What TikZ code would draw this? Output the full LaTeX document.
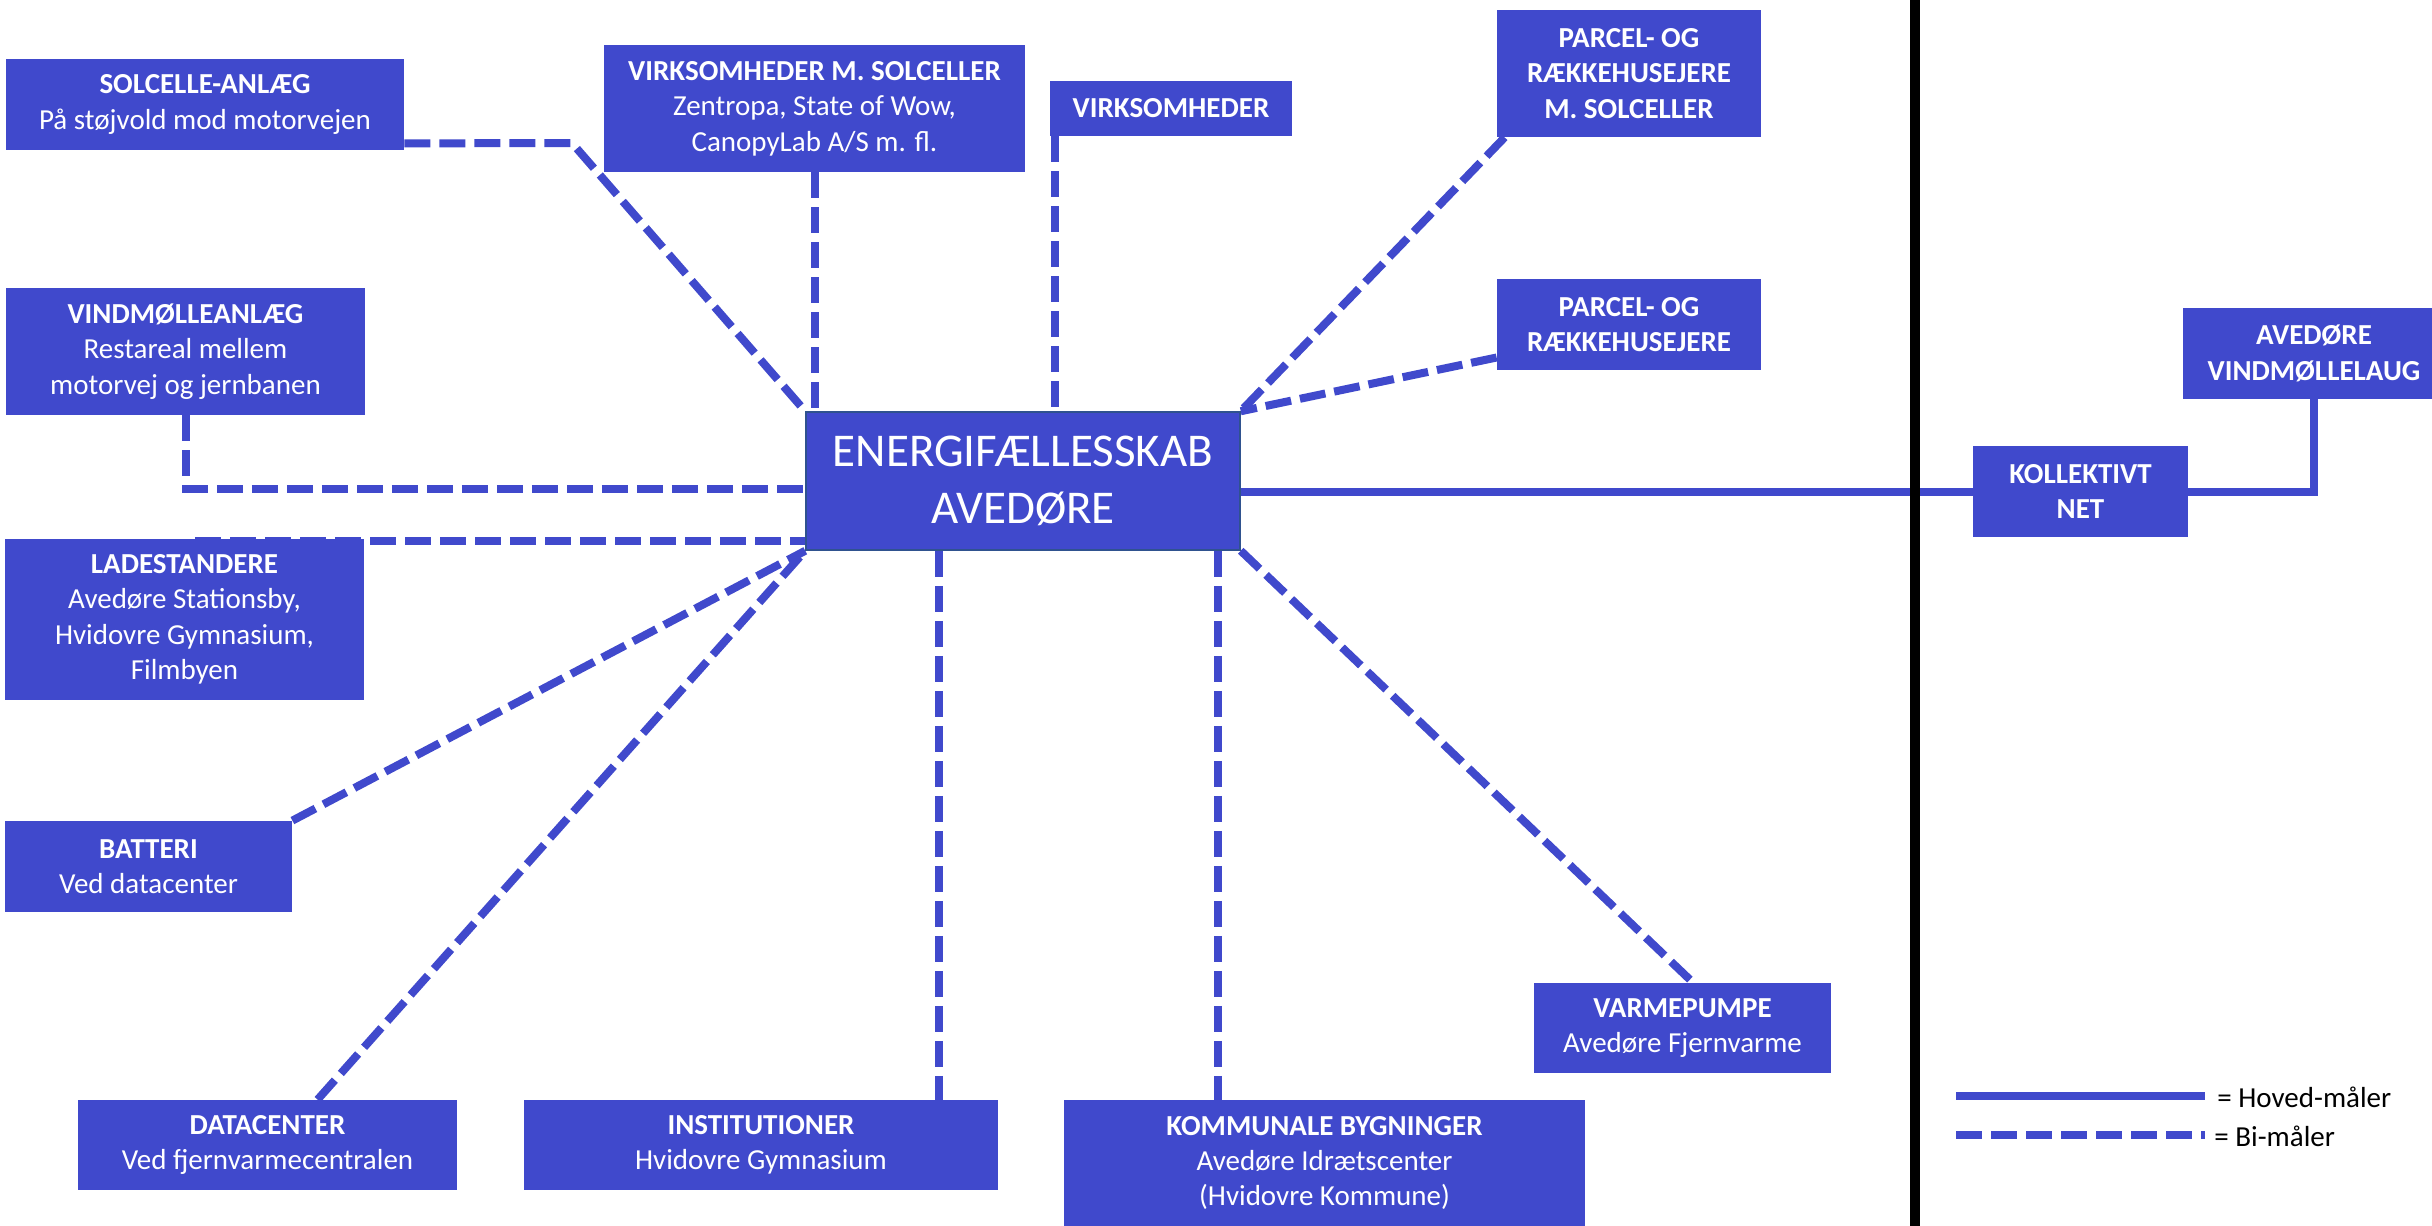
\documentclass[tikz,border=0pt]{standalone}
\usepackage{fontspec}
\setmainfont{Carlito}
\usetikzlibrary{calc,backgrounds}
\definecolor{boxblue}{HTML}{4049CC}
\definecolor{edgeblue}{HTML}{2F528F}
\begin{document}
\begin{tikzpicture}[x=0.5pt,y=-0.5pt,
  box/.style={fill=boxblue, text=white, align=center, inner sep=0pt,
    font=\fontsize{14.5}{17.7}\selectfont},
  bi/.style={draw=boxblue, line width=4pt, dash pattern=on 13pt off 4.5pt},
  hoved/.style={draw=boxblue, line width=4pt},
  legtext/.style={anchor=west, inner sep=0pt, font=\fontsize{14.5}{17.7}\selectfont}
]
\useasboundingbox (0,0) rectangle (2432,1226);
\clip (0,0) rectangle (2432,1226);

% nodes
\node[box, minimum width=199pt, minimum height=45.5pt] (sol) at (205,104.5)
  {\textbf{SOLCELLE-ANLÆG}\\På støjvold mod motorvejen};
\node[box, minimum width=210.5pt, minimum height=63.5pt] (vms) at (814.5,108.5)
  {\textbf{VIRKSOMHEDER M. SOLCELLER}\\Zentropa, State of Wow,\\CanopyLab A/S m. fl.};
\node[box, minimum width=121pt, minimum height=27.5pt] (virk) at (1171,108.5)
  {\textbf{VIRKSOMHEDER}};
\node[box, minimum width=132pt, minimum height=63.5pt] (pms) at (1629,73.5)
  {\textbf{PARCEL- OG}\\\textbf{RÆKKEHUSEJERE}\\\textbf{M. SOLCELLER}};
\node[box, minimum width=132pt, minimum height=45.5pt] (par) at (1629,324.5)
  {\textbf{PARCEL- OG}\\\textbf{RÆKKEHUSEJERE}};
\node[box, minimum width=179.5pt, minimum height=63.5pt] (vind) at (185.5,351.5)
  {\textbf{VINDMØLLEANLÆG}\\Restareal mellem\\motorvej og jernbanen};
\node[box, draw=edgeblue, line width=0.75pt, minimum width=217pt, minimum height=69pt,
  font=\fontsize{23.5}{28.5}\selectfont] (ener) at (1023,481)
  {ENERGIFÆLLESSKAB\\AVEDØRE};
\node[box, minimum width=179.5pt, minimum height=80.5pt] (lade) at (184.5,619.5)
  {\textbf{LADESTANDERE}\\Avedøre Stationsby,\\Hvidovre Gymnasium,\\Filmbyen};
\node[box, minimum width=143.5pt, minimum height=45.5pt] (batt) at (148.5,866.5)
  {\textbf{BATTERI}\\Ved datacenter};
\node[box, minimum width=189.5pt, minimum height=45pt] (data) at (267.5,1145)
  {\textbf{DATACENTER}\\Ved fjernvarmecentralen};
\node[box, minimum width=237pt, minimum height=45pt] (inst) at (761,1145)
  {\textbf{INSTITUTIONER}\\Hvidovre Gymnasium};
\node[box, minimum width=260.5pt, minimum height=63pt] (komm) at (1324.5,1163)
  {\textbf{KOMMUNALE BYGNINGER}\\Avedøre Idrætscenter\\(Hvidovre Kommune)};
\node[box, minimum width=148.5pt, minimum height=45pt] (varm) at (1682.5,1028)
  {\textbf{VARMEPUMPE}\\Avedøre Fjernvarme};
\node[box, minimum width=107.5pt, minimum height=45.5pt] (koll) at (2080.5,491.5)
  {\textbf{KOLLEKTIVT}\\\textbf{NET}};
\node[box, minimum width=131pt, minimum height=45.5pt] (vlaug) at (2314,353.5)
  {\textbf{AVEDØRE}\\\textbf{VINDMØLLELAUG}};

% helper coordinates
\coordinate (solbend) at (572,143);
\coordinate (ladeL) at (195,541);
\coordinate (vindc) at (ener.west |- 0,489);

\begin{pgfonlayer}{background}
\fill[white] (0,0) rectangle (2432,1226);
\draw[bi] ($(sol.south east)+(0,-7)$) -- (solbend) -- (ener.north west);
\draw[bi] (vms.south) -- (vms.south |- ener.north);
\draw[bi] ($(virk.south west)+(5,0)$) coordinate (vk) -- (vk |- ener.north);
\draw[bi] ($(pms.south west)+(8,0)$) -- (ener.north east);
\draw[bi] ($(par.west)+(0,33)$) -- (ener.north east);
\draw[bi] (vind.south) -- (vind.south |- vindc) -- (vindc);
\draw[bi] (ladeL) -- (ladeL -| ener.west);
\draw[bi] (batt.north east) -- (ener.south west);
\draw[bi] ($(data.north west)+(240,0)$) -- (ener.south west);
\draw[bi] ($(ener.south west)+(134,0)$) coordinate (ic) -- (ic |- inst.north);
\draw[bi] ($(ener.south east)+(-23,0)$) coordinate (kc) -- (kc |- komm.north);
\draw[bi] (ener.south east) -- ($(varm.north)+(10.5,0)$);
\draw[hoved] (ener.east |- koll.west) -- (koll.west);
\draw[hoved] (koll.east) -| (vlaug.south);
\end{pgfonlayer}

% divider
\fill[black] (1910,0) rectangle (1920,1226);

% legend
\coordinate (l1a) at (1956,1096);
\coordinate (l1b) at (2205,1096);
\coordinate (l2a) at (1956,1135);
\coordinate (l2b) at (2205,1135);
\draw[hoved] (l1a) -- (l1b);
\draw[bi] (l2a) -- (l2b);
\node[legtext] (t1) at (2217,1097) {= Hoved-måler};
\node[legtext] (t2) at (2214,1136) {= Bi-måler};
\end{tikzpicture}
\end{document}
